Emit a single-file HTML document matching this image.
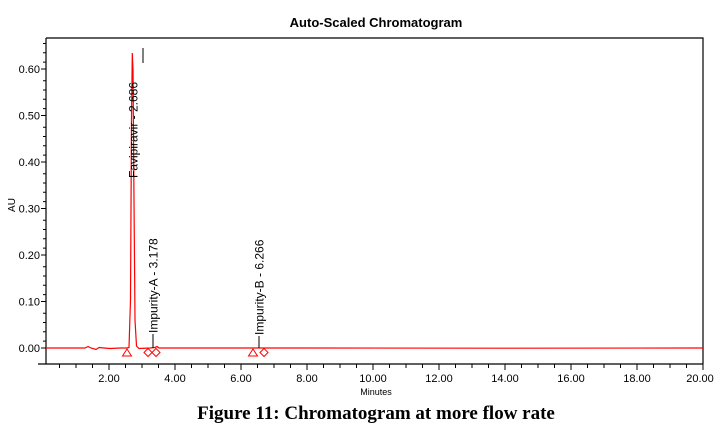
<!DOCTYPE html>
<html><head><meta charset="utf-8"><style>
html,body{margin:0;padding:0;background:#fff;}
svg{display:block;}
</style></head><body>
<svg width="723" height="436" viewBox="0 0 723 436" xmlns="http://www.w3.org/2000/svg" font-family="Liberation Sans, sans-serif">
<text x="376" y="27" font-size="13" font-weight="bold" text-anchor="middle">Auto-Scaled Chromatogram</text>
<path d="M46 38 H703 V364" fill="none" stroke="#000" stroke-width="1.2"/>
<line x1="46" y1="38" x2="46" y2="364" stroke="#000" stroke-width="1.2"/>
<line x1="38" y1="364" x2="703" y2="364" stroke="#000" stroke-width="1.2"/>
<g stroke="#000" stroke-width="1">
<!-- y ticks -->
<line x1="41" y1="69" x2="46" y2="69"/><line x1="41" y1="115.5" x2="46" y2="115.5"/><line x1="41" y1="162" x2="46" y2="162"/><line x1="41" y1="208.5" x2="46" y2="208.5"/><line x1="41" y1="255" x2="46" y2="255"/><line x1="41" y1="301.5" x2="46" y2="301.5"/><line x1="41" y1="348" x2="46" y2="348"/>
</g>
<g stroke="#000" stroke-width="0.8" id="ym"></g>
<g font-size="11" text-anchor="end">
<text x="40" y="73">0.60</text><text x="40" y="119.5">0.50</text><text x="40" y="166">0.40</text><text x="40" y="212.5">0.30</text><text x="40" y="259">0.20</text><text x="40" y="305.5">0.10</text><text x="40" y="352">0.00</text>
</g>
<g stroke="#000" stroke-width="1">
<path d="M43 341.1h3M43 331.8h3M43 322.5h3M43 313.2h3M43 294.6h3M43 285.3h3M43 276h3M43 266.7h3M43 248.1h3M43 238.8h3M43 229.5h3M43 220.2h3M43 201.6h3M43 192.3h3M43 183h3M43 173.7h3M43 155.1h3M43 145.8h3M43 136.5h3M43 127.2h3M43 108.6h3M43 99.3h3M43 90h3M43 80.7h3M43 62.1h3M43 52.8h3M43 43.5h3"/>
<path d="M59.5 364v4M76 364v4M92.5 364v4M109 364v6M125.5 364v4M142 364v4M158.5 364v4M175 364v6M191.5 364v4M208 364v4M224.5 364v4M241 364v6M257.5 364v4M274 364v4M290.5 364v4M307 364v6M323.5 364v4M340 364v4M356.5 364v4M373 364v6M389.5 364v4M406 364v4M422.5 364v4M439 364v6M455.5 364v4M472 364v4M488.5 364v4M505 364v6M521.5 364v4M538 364v4M554.5 364v4M571 364v6M587.5 364v4M604 364v4M620.5 364v4M637 364v6M653.5 364v4M670 364v4M686.5 364v4M703 364v6"/>
</g>
<g font-size="11" text-anchor="middle">
<text x="109" y="382">2.00</text><text x="175" y="382">4.00</text><text x="241" y="382">6.00</text><text x="307" y="382">8.00</text><text x="373" y="382">10.00</text><text x="439" y="382">12.00</text><text x="505" y="382">14.00</text><text x="571" y="382">16.00</text><text x="637" y="382">18.00</text><text x="700" y="382">20.00</text>
</g>
<text x="376" y="395" font-size="9" text-anchor="middle">Minutes</text>
<text transform="translate(15,205) rotate(-90)" font-size="10" text-anchor="middle">AU</text>
<!-- trace -->
<path d="M46 348 L85 348 L88 346.5 L91 348 L96 349.5 L99 347.5 L104 348 L110 348.5 L120 348 L127 348 L129 347.5 L130.5 300 L131.5 120 L132.3 53 L133 70 L134 200 L135 320 L136.5 346 L139 348.5 L150 348 L155 347.5 L157 346.5 L159 348 L300 348 L500 348.2 L703 348" fill="none" stroke="#f00" stroke-width="1.2"/>
<line x1="143" y1="48" x2="143" y2="63" stroke="#000" stroke-width="1"/>
<line x1="153" y1="334" x2="153" y2="348" stroke="#000" stroke-width="1"/>
<line x1="259" y1="336" x2="259" y2="348" stroke="#000" stroke-width="1"/>
<g fill="none" stroke="#f00" stroke-width="1">
<path d="M127 349 L122.5 356 L131.5 356 Z"/>
<path d="M148 348.5 l4 4 l-4 4 l-4 -4 Z"/>
<path d="M156 348.5 l4 4 l-4 4 l-4 -4 Z"/>
<path d="M253 349 L248.5 356 L257.5 356 Z"/>
<path d="M264 348.5 l4 4 l-4 4 l-4 -4 Z"/>
</g>
<g font-size="12">
<text transform="translate(137.5,178) rotate(-90)">Favipiravir - 2.686</text>
<text transform="translate(157.5,333) rotate(-90)">Impurity-A - 3.178</text>
<text transform="translate(263.5,335) rotate(-90)">Impurity-B - 6.266</text>
</g>
<text x="376" y="419" font-family="Liberation Serif, serif" font-size="19" font-weight="bold" text-anchor="middle">Figure 11: Chromatogram at more flow rate</text>
</svg>
</body></html>
